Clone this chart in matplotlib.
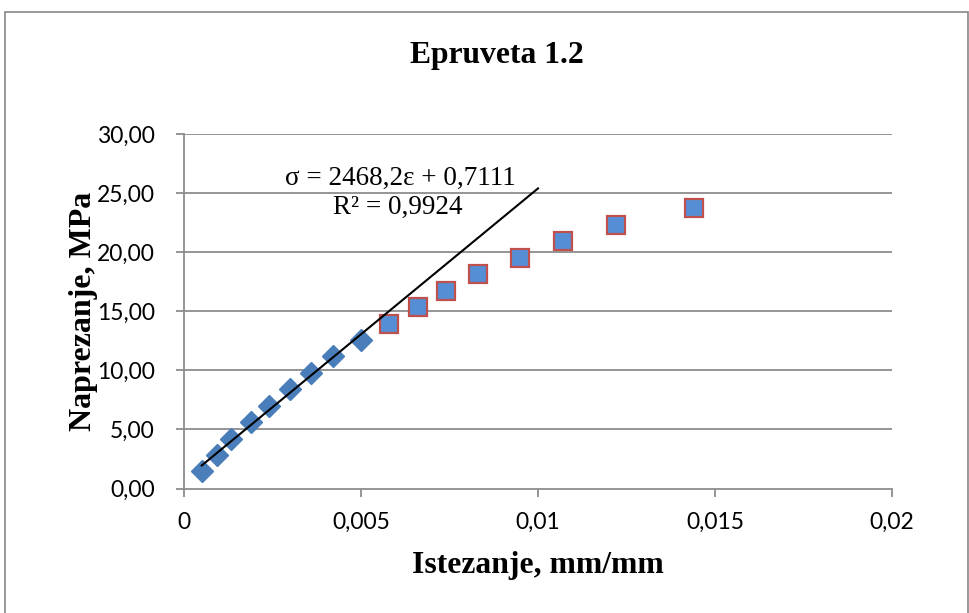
import matplotlib
matplotlib.use("Agg")
import matplotlib.pyplot as plt
import numpy as np
from matplotlib.patches import Rectangle

# Data
elastic_strain = [0.0005, 0.00093, 0.00133, 0.0019, 0.0024, 0.0030, 0.0036, 0.0042, 0.0050]
elastic_stress = [1.44, 2.80, 4.20, 5.60, 7.00, 8.40, 9.80, 11.20, 12.55]
plastic_strain = [0.0058, 0.0066, 0.0074, 0.0083, 0.0095, 0.0107, 0.0122, 0.0144]
plastic_stress = [13.90, 15.35, 16.75, 18.15, 19.50, 20.95, 22.30, 23.75]
fit_slope = 2468.2
fit_intercept = 0.7111
fit_range = [0.0005, 0.01]
x_ticks = [0, 0.005, 0.01, 0.015, 0.02]
x_ticklabels = ["0", "0,005", "0,01", "0,015", "0,02"]
y_ticks = [0, 5, 10, 15, 20, 25, 30]
y_ticklabels = ["0,00", "5,00", "10,00", "15,00", "20,00", "25,00", "30,00"]

W, H = 970, 613
fig = plt.figure(figsize=(W / 100, H / 100), dpi=100)
fig.patch.set_facecolor("white")

# outer chart border
fig.patches.append(Rectangle((5 / W, 1 - 620 / H), (968 - 5) / W, (620 - 12) / H,
                             transform=fig.transFigure, fill=False,
                             edgecolor="#878787", linewidth=1.2))

ax = fig.add_axes([184 / W, 1 - 488.5 / H, (892 - 184) / W, (488.5 - 134) / H])
ax.set_xlim(0, 0.02)
ax.set_ylim(0, 30)

grid_col = "#8c8c8c"
for y in y_ticks[1:]:
    ax.axhline(y, color=grid_col, linewidth=1.3, zorder=0)

for s in ["top", "right"]:
    ax.spines[s].set_visible(False)
for s in ["left", "bottom"]:
    ax.spines[s].set_color(grid_col)
    ax.spines[s].set_linewidth(1.3)

ax.set_xticks(x_ticks)
ax.set_xticklabels(x_ticklabels)
ax.set_yticks(y_ticks)
ax.set_yticklabels(y_ticklabels)
ax.tick_params(axis="both", direction="out", length=6, width=1.3, color=grid_col,
               labelsize=16.5, labelcolor="black")
ax.tick_params(axis="x", pad=11)
ax.tick_params(axis="y", pad=15)
for lab in ax.get_xticklabels() + ax.get_yticklabels():
    lab.set_family("Lato")

ax.plot(elastic_strain, elastic_stress, linestyle="none", marker="D", markersize=11,
        color="#4a7ebb", markeredgecolor="#4a7ebb", zorder=3)
ax.plot(plastic_strain, plastic_stress, linestyle="none", marker="s", markersize=13,
        color="#558ed5", markeredgecolor="#c0504d", markeredgewidth=1.6, zorder=3)

fx = np.array(fit_range)
ax.plot(fx, fit_slope * fx + fit_intercept, color="black", linewidth=1.5, zorder=4)

ax.text(0.0061, 26.25, "σ = 2468,2ε + 0,7111", ha="center", va="center",
        family="Liberation Serif", fontsize=19.5)
ax.text(0.00605, 23.8, "R² = 0,9924", ha="center", va="center",
        family="Liberation Serif", fontsize=19.5)

fig.text(497 / W, 1 - 55 / H, "Epruveta 1.2", ha="center", va="center",
         family="Liberation Serif", fontweight="bold", fontsize=22.8)
fig.text(538 / W, 1 - 566 / H, "Istezanje, mm/mm", ha="center", va="center",
         family="Liberation Serif", fontweight="bold", fontsize=22.8)
fig.text(84 / W, 1 - 311 / H, "Naprezanje, MPa", ha="center", va="center",
         rotation=90, family="Liberation Serif", fontweight="bold", fontsize=23)

fig.savefig("out.png", dpi=100)
